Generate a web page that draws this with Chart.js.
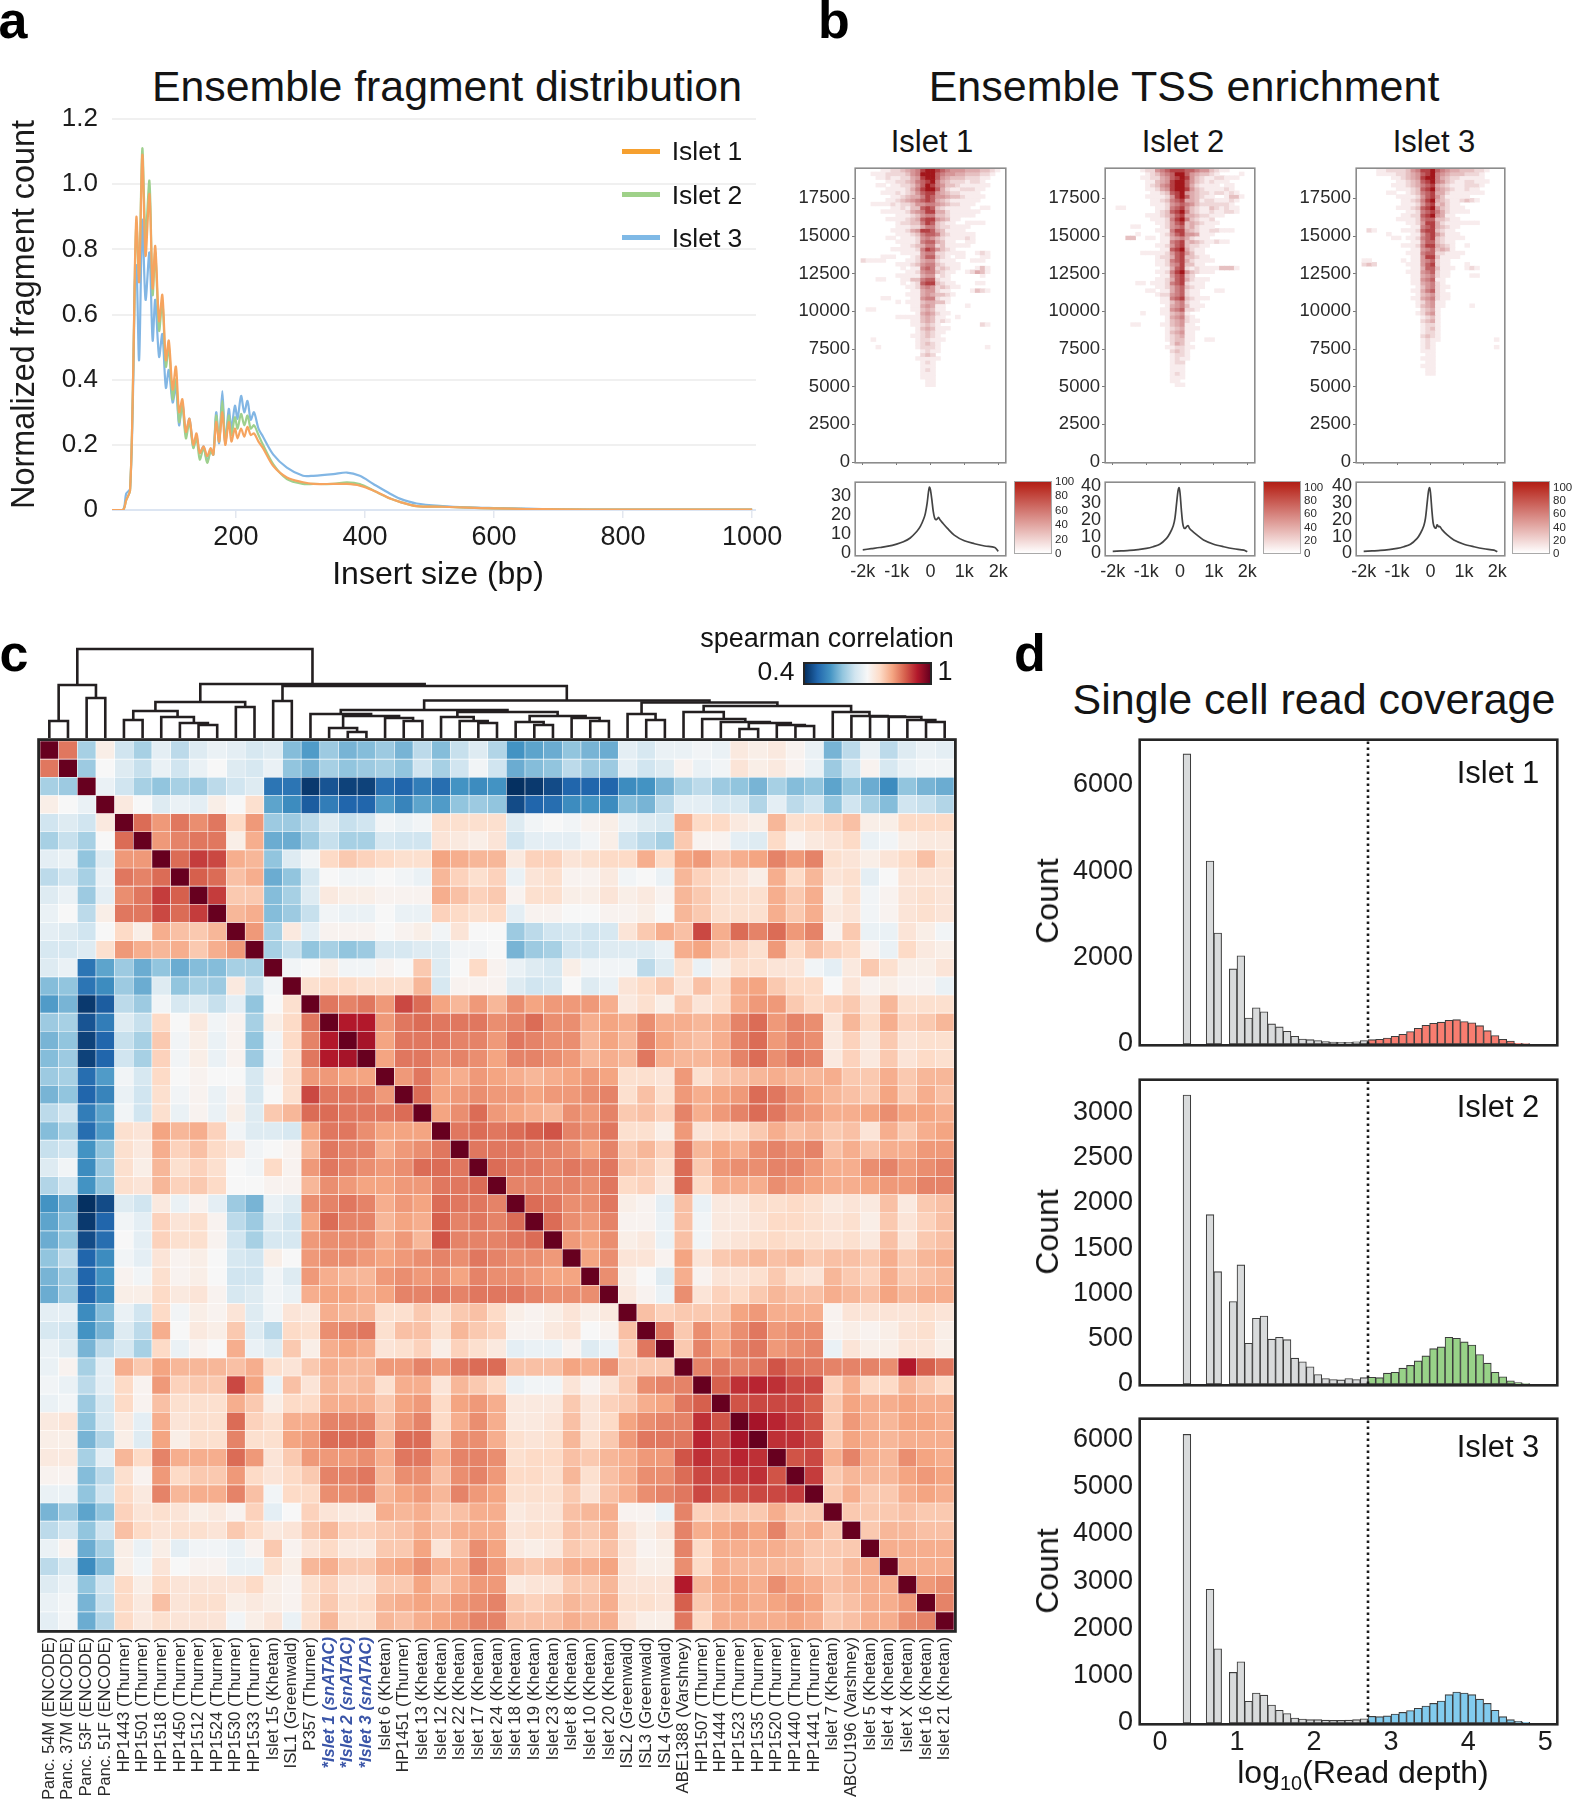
<!DOCTYPE html>
<html>
<head>
<meta charset="utf-8">
<title>Islet snATAC quality figure</title>
<script src="https://cdn.jsdelivr.net/npm/chart.js@4/dist/chart.umd.min.js"></script>
<style>
  html, body { margin: 0; background: #fff; }
  #page { position: relative; width: 1573px; height: 1800px; overflow: hidden; font-family: "Liberation Sans", Arial, sans-serif; color: #141414; }
  #page canvas { position: absolute; }
  .t { position: absolute; white-space: nowrap; line-height: 1; transform: translate(-50%, -50%); }
  .t sub { font-size: 0.62em; line-height: 0; }
  .box { position: absolute; box-sizing: border-box; }
</style>
</head>
<body>
<div id="page"></div>
<script>
// panel a
const fragX = [8,25,30,36,41,43.5,46,50,55,60,66,71,75,81,86,91.5,96,102,107,112,117,122.5,128,134,139,144,150,155.5,161,165,169.5,174,179,183.5,189,193,198.5,202.5,208,213,218,223,228,235,242,258,279,304,320,351,372,392,413,439,454,480,520,560,600,650,700,800,900,1000]
const fragIslet1 = [0,0,.03,.06,.44,.75,.90,.70,1.09,.78,.97,.68,.81,.58,.66,.46,.52,.37,.44,.30,.34,.24,.28,.20,.235,.175,.195,.165,.19,.17,.27,.21,.30,.20,.27,.21,.25,.22,.25,.225,.255,.23,.235,.21,.19,.135,.10,.085,.08,.08,.08,.075,.06,.035,.025,.012,.01,.007,.005,.003,.002,.001,.001,.001]
const fragIslet2 = [0,0,.03,.06,.44,.73,.88,.72,1.11,.84,1.01,.66,.79,.55,.64,.44,.50,.34,.40,.27,.32,.22,.27,.19,.22,.155,.19,.145,.18,.17,.29,.21,.335,.21,.29,.23,.285,.25,.295,.26,.29,.25,.26,.23,.20,.14,.095,.08,.08,.08,.085,.08,.06,.035,.025,.012,.01,.007,.005,.003,.002,.001,.001,.001]
const fragIslet3 = [0,0,.05,.065,.40,.70,.75,.46,.89,.645,.79,.52,.645,.47,.54,.375,.43,.33,.38,.26,.33,.235,.28,.195,.225,.175,.195,.15,.185,.17,.30,.205,.365,.205,.31,.25,.32,.28,.35,.30,.335,.277,.30,.25,.225,.17,.13,.105,.105,.11,.115,.105,.08,.05,.035,.02,.012,.008,.006,.004,.002,.001,.001,.001]
const fragXTicks = [200,400,600,800,1000]
const fragYTicks = [0,.2,.4,.6,.8,1,1.2]

// panel b, rows run from 19500 downwards in steps of 250, one digit per column, blank below the last row
const tssIslet1 = [
  "000001122345689987655544433210",
  "000111222235699976554433322100",
  "000011211224589975433322211000",
  "000000112234678964322212210000",
  "000011011223579865332111111000",
  "000000111124689974211222110000",
  "000001112123578854322111100000",
  "000000011234468755433211110000",
  "000000112345678743211111100000",
  "000111121223556654322111000000",
  "000000011213378732111110011000",
  "000001111124568844211111100000",
  "000000001112356633211111000000",
  "000000111123478854311000000000",
  "000000001223368732110011110000",
  "000000001112246632211110000000",
  "000000011124588743111100000000",
  "000000001112367763211111000000",
  "000000110111256532111121000000",
  "000000001111267743110011000000",
  "000000000112346623111110000000",
  "000000011111268753210000000000",
  "000000000111156622111100121000",
  "000001110001257732101100011000",
  "021111000011245521110001110000",
  "000000001112356632111000000000",
  "000000000101167623211000131000",
  "000000000011256632110012431000",
  "000000001111145512100000010000",
  "000011000113367721100000000000",
  "000000000101278832110000110000",
  "000000000011256523211000000000",
  "000000000001145521100001321000",
  "000000000011145433210000000000",
  "000001100001156621100000000000",
  "000000001011134433100000000000",
  "000000000001145411000010000000",
  "001100000001134311000000000000",
  "000000000000145421100000000000",
  "000000001111134311001000000000",
  "000000000001134312100000000000",
  "000000000001123210000000021000",
  "000000000000134311100000000000",
  "000000000000123211000000000000",
  "000000000001123210000000000000",
  "000100000000122111000000000000",
  "000000000000123210000000000000",
  "000010000000122210000000001000",
  "000000000000012110000000000000",
  "000000000000023200000000000000",
  "000000000000111110000000000000",
  "000000000000012100000000000000",
  "000000000000011100000000000000",
  "000000000000012100000000000000",
  "000000000000011100000000000000",
  "000000000000011100000000000000",
  "000000000000001100000000000000",
  "000000000000001100000000000000",
]
const tssIslet2 = [
  "000000012256788877655321100000",
  "000000001235679975433210000100",
  "000000011224578985321122111000",
  "000000001134589975321211100000",
  "000000001235689974211110110000",
  "000000001124589985321111210000",
  "000000000112378954322122121000",
  "000000001111258974321100133100",
  "000000000112367844312211121000",
  "000000000111256765322222210000",
  "001100000011267853211321211000",
  "000000000012378963211211221000",
  "000000001112357844322111000000",
  "000000000111268963211200000000",
  "000000000011257834321110000000",
  "000001100001256734211100000000",
  "000000000011168843211221110000",
  "000000100001257855411100000000",
  "000033001101145642111000000000",
  "000000000001167834321121100000",
  "000000000011257832211000000000",
  "000000000001178942110000000000",
  "000000011111257853110000000000",
  "000000000012247833211000000000",
  "000000000011267842111100000000",
  "000000000011256833110000000000",
  "000000000001147821211113331000",
  "000000000011268953211100000000",
  "000000000001157832000000000000",
  "000000000011247842111000000000",
  "000000110111267821110000000000",
  "000000000011246732110000000000",
  "000000001101146721100011000000",
  "000000000012256721100000000000",
  "000000000001167832111000000000",
  "000000000001135621100000000000",
  "000000000000145631110000000000",
  "000000000001156722100000000000",
  "000000010001134510000000000000",
  "000000000000145621000000000000",
  "000000000000134521100000000000",
  "000001100001134511000000000000",
  "000000000000123411100000000000",
  "000000000000134511000000000000",
  "000000000000123411000000000000",
  "000000000000123311001100000000",
  "000000000000024310000000000000",
  "000000000000112211000000000000",
  "000000000000023210000000000000",
  "000000000000012210000000000000",
  "000000000000012110000000000000",
  "000000000000012200000000000000",
  "000000000000011100000000000000",
  "000000000000011100000000000000",
  "000000000000012100000000000000",
  "000000000000011100000000000000",
  "000000000000011000000000000000",
  "000000000000001100000000000000",
]
const tssIslet3 = [
  "000011222235688976544333221000",
  "000011112234578965433322210000",
  "000000011234589964322111110000",
  "000000001123478965321122111000",
  "000000011123467843211122210000",
  "000000001112378954321121100000",
  "000000110012367844211111110000",
  "000000001111257853111110000000",
  "000000000112368943211232100000",
  "000000000111257834211000000000",
  "000000001112378953211100000000",
  "000000000011267864211110000000",
  "000000000112278954110000000000",
  "000000001111267733211000000000",
  "000000000011258842111111100000",
  "000000000001167843211000000000",
  "002100000111278832110000000000",
  "000000100001157853111000000000",
  "000000011011267832111100000000",
  "000000000001157732110000000000",
  "000000000111268843210010000000",
  "000000000001156734310000000000",
  "000000000011167722111100000000",
  "000000000001158831111000000000",
  "011000000101156721100000000000",
  "023200000011157821100010000000",
  "000000000001147731110012100000",
  "000000000011156721100000000000",
  "000000000001145621100001100000",
  "000000000001156711000000000000",
  "000000000001145621000000000000",
  "000000000000135621100000000000",
  "000000000001146721000000000000",
  "000000000000134521100000000000",
  "000000000001145621100000000000",
  "000000000000124511000000000000",
  "000000000000134511000001000000",
  "000000000000023410000000000000",
  "000000000000124510000000000000",
  "000000000000012310000000000000",
  "000000000000023410000000000000",
  "000000000000012210000000000000",
  "000000000000012310000000000000",
  "000000000000012210000000000000",
  "000000000000023210000000000000",
  "000000000000012110000000000010",
  "000000000000012100000000000000",
  "000000000000012100000000000010",
  "000000000000011100000000000000",
  "000000000000001100000000000000",
  "000000000000011100000000000000",
  "000000000000001100000000000000",
  "000000000000011100000000000000",
  "000000000000001100000000000000",
  "000000000000001100000000000000",
]
const tssShades = [0,.08,.17,.27,.36,.45,.55,.68,.82,1]
const tssYTicks = [0,2500,5000,7500,10000,12500,15000,17500]
const tssXTicks = [-2000,-1000,0,1000,2000]
const profileX = [-2000,-1750,-1500,-1250,-1000,-800,-600,-400,-300,-200,-150,-100,-60,-30,0,40,80,120,160,200,240,280,350,500,700,1000,1300,1600,1900,2000]
const profileIslet1 = [1.8,2.4,3,3.7,4.8,6,8,11.5,14,18,21,26,32,34.5,33,28,22,18.5,17.5,18,18.7,17.5,16,13,9.5,6.5,5,3.8,3,1]
const profileIslet2 = [1.2,1.5,1.8,2.3,3,4,5.5,9,12,16.5,21,30,37,39,36,26,18,15,15,16,16.5,15,13.5,11,8,5.5,4,2.8,2,1]
const profileIslet3 = [1.2,1.5,1.8,2.3,3,4,5.5,9,12,16.5,21,30,37,39,36,26,18,15.5,15,17,16,16,14,11,8,5.5,4,2.8,2,1]
const tssBarTicks = [0,20,40,60,80,100]

// panel c
const corrLabels = ["Panc. 54M (ENCODE)","Panc. 37M (ENCODE)","Panc. 53F (ENCODE)","Panc. 51F (ENCODE)","HP1443 (Thurner)","HP1501 (Thurner)","HP1518 (Thurner)","HP1450 (Thurner)","HP1512 (Thurner)","HP1524 (Thurner)","HP1530 (Thurner)","HP1533 (Thurner)","Islet 15 (Khetan)","ISL1 (Greenwald)","P357 (Thurner)","*Islet 1 (snATAC)","*Islet 2 (snATAC)","*Islet 3 (snATAC)","Islet 6 (Khetan)","HP1451 (Thurner)","Islet 13 (Khetan)","Islet 12 (Khetan)","Islet 22 (Khetan)","Islet 17 (Khetan)","Islet 24 (Khetan)","Islet 18 (Khetan)","Islet 19 (Khetan)","Islet 23 (Khetan)","Islet 8 (Khetan)","Islet 10 (Khetan)","Islet 20 (Khetan)","ISL2 (Greenwald)","ISL3 (Greenwald)","ISL4 (Greenwald)","ABE1388 (Varshney)","HP1507 (Thurner)","HP1444 (Thurner)","HP1523 (Thurner)","HP1535 (Thurner)","HP1520 (Thurner)","HP1440 (Thurner)","HP1441 (Thurner)","Islet 7 (Khetan)","ABCU196 (Varshney)","Islet 5 (Khetan)","Islet 4 (Khetan)","Islet X (Khetan)","Islet 16 (Khetan)","Islet 21 (Khetan)"]
// upper triangle of the correlation x 100, each row starts right after the diagonal
const corrUpper = [
  [86,60,72,64,60,67,62,66,68,67,65,66,57,53,59,56,57,59,56,62,57,63,66,61,52,54,55,58,56,55,67,65,68,68,69,68,73,72,73,71,68,56,62,68,62,66,68,67],
  [59,70,66,63,68,64,68,70,66,65,68,58,56,60,58,59,60,58,64,60,64,69,64,55,57,58,62,59,59,67,64,66,71,68,69,74,72,73,71,68,59,64,71,65,68,69,69],
  [68,64,60,58,60,59,62,64,66,48,48,41,44,42,42,47,46,49,47,52,51,52,40,41,43,46,46,46,51,52,56,60,62,59,58,56,60,57,58,54,58,55,51,58,56,55],
  [73,70,66,68,67,72,70,75,54,51,45,49,46,46,53,50,54,53,58,59,58,43,46,47,51,52,51,57,56,62,67,67,65,65,61,67,62,64,58,64,60,57,64,63,61],
  [87,83,86,84,86,76,83,59,59,62,66,63,64,69,68,69,75,75,75,75,66,69,70,69,71,72,68,66,65,81,76,76,73,72,80,75,76,77,79,72,72,76,76,76],
  [83,85,86,86,72,81,55,55,59,63,60,60,65,64,64,74,73,72,74,64,67,67,67,69,72,64,62,60,78,71,71,67,66,76,71,73,74,76,68,69,72,73,73],
  [87,91,90,81,80,58,66,69,76,78,77,76,75,75,82,81,80,80,73,77,77,74,75,76,76,81,76,82,83,79,81,82,85,83,85,75,74,72,74,76,79,75],
  [88,87,79,81,55,58,65,70,69,69,70,69,68,80,77,75,77,68,74,75,71,71,73,69,70,68,80,77,75,74,72,81,76,80,74,75,67,70,74,74,74],
  [91,78,78,57,60,66,73,72,72,71,71,71,81,79,77,78,71,75,75,72,72,74,72,73,71,80,78,75,75,75,81,78,81,72,75,69,71,74,75,74],
  [80,81,57,59,63,69,68,68,70,68,68,77,76,75,76,67,71,71,70,70,71,71,72,70,80,78,75,75,75,81,78,81,73,74,69,71,74,75,74],
  [83,60,73,67,71,71,71,70,71,72,69,74,70,70,59,62,64,65,64,65,74,78,81,79,90,81,87,85,87,83,85,71,78,68,68,74,72,69],
  [60,63,58,60,58,59,65,65,66,66,69,69,70,56,59,60,64,64,66,66,66,68,81,82,78,77,75,83,76,79,77,76,71,68,76,73,72],
  [69,70,72,69,69,71,70,78,66,70,76,71,68,66,65,72,69,69,69,62,66,75,68,72,75,75,74,74,69,67,73,78,75,72,72,74],
  [75,76,76,75,75,75,80,65,71,71,71,66,64,65,70,66,68,74,76,78,74,79,76,81,82,78,76,76,70,74,71,72,71,71,68],
  [86,85,86,83,90,87,82,80,83,80,84,82,83,83,83,81,73,75,72,78,74,76,81,83,83,78,76,77,78,74,80,75,75,75],
  [94,94,83,86,87,86,86,86,84,85,87,84,84,81,82,81,84,81,81,80,81,85,87,83,85,84,74,80,76,81,77,78,80],
  [95,82,86,86,86,85,85,83,86,85,84,84,80,82,80,85,82,80,79,81,85,87,83,85,84,73,77,73,78,74,75,75],
  [82,86,86,84,85,84,82,85,85,84,83,80,81,80,86,81,80,80,81,85,87,84,86,85,73,77,73,78,74,76,75],
  [83,86,82,81,83,82,81,80,81,82,83,82,75,75,74,83,75,78,79,80,81,80,80,81,78,78,81,78,80,80],
  [87,82,83,84,83,83,82,83,83,84,85,75,79,75,83,81,82,83,87,86,84,82,80,79,78,82,78,81,79],
  [82,84,87,83,82,81,80,84,83,85,78,79,77,85,81,83,85,87,86,84,83,81,81,82,84,82,82,81],
  [86,87,86,87,88,89,85,84,86,75,75,72,83,74,76,76,78,81,79,80,78,79,74,81,78,81,82],
  [86,86,86,85,85,84,82,85,78,80,77,86,80,82,81,84,85,84,85,79,81,79,81,81,83,83],
  [87,86,86,85,86,85,86,79,78,75,87,78,83,84,84,85,85,83,81,81,84,85,83,84,85],
  [85,85,85,85,84,86,76,77,73,87,76,81,81,81,84,83,82,81,81,82,83,83,85,85],
  [87,86,84,84,86,72,71,67,79,68,73,73,75,75,76,75,73,74,73,79,73,78,79],
  [87,84,83,85,71,71,68,79,69,73,73,74,76,76,75,74,75,72,78,74,77,79],
  [83,82,84,72,73,68,79,69,73,74,75,76,75,75,74,75,73,79,74,78,79],
  [82,84,74,74,71,82,74,78,79,80,79,80,78,79,79,78,81,78,80,81],
  [84,72,70,66,81,71,74,74,75,78,75,74,80,78,77,81,78,79,80],
  [73,71,68,84,74,77,76,78,80,79,79,81,80,79,82,80,81,81],
  [79,77,78,78,78,82,83,81,81,81,71,74,74,74,74,75,74],
  [86,78,84,81,84,86,83,84,84,71,72,71,72,74,75,72],
  [78,85,82,85,86,83,84,85,68,74,72,72,74,74,72],
  [85,86,85,86,89,87,86,85,85,85,84,94,88,86],
  [88,92,93,92,90,90,77,81,76,76,80,78,76],
  [89,90,90,90,88,78,82,81,81,82,81,81],
  [95,93,91,89,78,83,81,80,82,82,81],
  [92,92,90,78,82,81,80,81,81,81],
  [89,90,81,85,81,80,84,82,81],
  [91,78,80,80,80,82,83,82],
  [78,81,78,78,81,82,81],
  [78,78,78,79,78,78],
  [78,80,80,79,79],
  [81,81,81,81],
  [81,81,81],
  [83,84],
  [85],
]
// merges as [name, left, right, height], a number is a leaf column
const dendroMerges = [
  ["a",1,2,17],["b",3,4,40],["c","a","b",53],["d",5,6,18],["e",9,10,13],["f",8,"e",15],["g",7,"f",21],["h","d","g",27],
  ["i",11,12,31],["j","h","i",36],["k",13,14,37],["l",17,18,6],["m",16,"l",10],["n",20,21,17],["o",19,"n",20],["p","m","o",22],
  ["q",15,"p",24],["r",24,25,15],["s",23,"r",17],["t",22,"s",21],["u",27,28,13],["v",26,"u",16],["w",30,31,17],["x",29,"w",20],
  ["y","v","x",22],["z","t","y",26],["aa","q","z",28],["ab",33,34,18],["ac",32,"ab",24],["ad",41,42,12],["ae",40,"ad",13],["af",38,39,9],
  ["ag","af","ae",15],["ah",37,"ag",16],["ai",36,"ah",19],["aj",35,"ai",26],["ak",48,49,16],["al",47,"ak",18],["am",46,"al",21],["an",45,"am",21.5],
  ["ao",44,"an",22],["ap",43,"ao",26],["aq","aj","ap",32],["ar","ac","aq",35.5],["as","aa","ar",37.5],["at","k","as",52],["au","j","at",54],["av","c","au",89],
]
const corrStops = ["#053061","#2166ac","#4393c3","#92c5de","#d1e5f0","#f7f7f7","#fddbc7","#f4a582","#d6604d","#b2182b","#67001f"]

// panel d, bin left edges and counts
const depthBins = [.3,.6,.7,.9,1,1.1,1.2,1.3,1.4,1.5,1.6,1.7,1.8,1.9,2,2.1,2.2,2.3,2.4,2.5,2.6,2.7,2.8,2.9,3,3.1,3.2,3.3,3.4,3.5,3.6,3.7,3.8,3.9,4,4.1,4.2,4.3,4.4,4.5,4.6,4.7]
const depthIslet1 = [6720,4240,2570,1740,2045,600,840,745,465,395,295,180,115,100,80,55,45,40,40,50,80,100,110,140,180,225,290,365,435,480,505,550,565,520,490,425,310,195,110,70,15,10]
const depthIslet2 = [3190,1870,1240,910,1315,450,725,750,495,515,490,285,245,190,105,60,50,45,60,50,70,75,70,120,130,175,205,255,310,390,410,515,505,465,430,325,230,130,80,35,15,5]
const depthIslet3 = [6105,2830,1570,1070,1295,460,635,590,380,270,200,105,85,70,70,60,55,55,60,70,90,140,135,150,190,225,265,310,360,415,465,600,655,635,600,505,415,270,135,70,35,15]
const depthCut = 2.7
const depthXTicks = [0,1,2,3,4,5]

const page = document.getElementById("page")
const FONT = '"Liberation Sans", Arial, sans-serif'
const INK = "#1c1c1c"
const plain = (v) => String(v)

Chart.defaults.font.family = FONT
Chart.defaults.color = INK
Chart.defaults.animation = false
Chart.defaults.responsive = false
Chart.defaults.maintainAspectRatio = false
Chart.defaults.plugins.legend.display = false
Chart.defaults.plugins.tooltip.enabled = false
Chart.defaults.scale.ticks.autoSkip = false

const framePlugin = {
  id: "frame",
  afterDraw(chart, args, opts) {
    if (!opts.width) return
    const { left, right, top, bottom } = chart.chartArea
    const ctx = chart.ctx
    const w = opts.width
    ctx.save()
    ctx.strokeStyle = opts.color
    ctx.lineWidth = w
    ctx.strokeRect(left - w / 2, top - w / 2, right - left + w, bottom - top + w)
    ctx.restore()
  },
}

// chart area lands exactly on plot, m is the room around it for axes
function makeChart(plot, m, config) {
  const canvas = document.createElement("canvas")
  canvas.width = plot.r - plot.l + m.l + m.r
  canvas.height = plot.b - plot.t + m.t + m.b
  canvas.style.left = plot.l - m.l + "px"
  canvas.style.top = plot.t - m.t + "px"
  page.appendChild(canvas)

  const { x, y } = config.options.scales
  const padding = { top: m.t, right: m.r, left: 0, bottom: 0 }
  if (y.display === false) padding.left = m.l
  else y.afterFit = (s) => { s.width = m.l }
  if (x.display === false) padding.bottom = m.b
  else x.afterFit = (s) => { s.height = m.b }
  config.options.layout = { padding }
  config.plugins = [framePlugin]
  return new Chart(canvas, config)
}

function fixedTicks(values) {
  return (scale) => { scale.ticks = values.map((value) => ({ value })) }
}

function addText(html, x, baseline, size, extra = {}) {
  const el = document.createElement("div")
  el.className = "t"
  el.innerHTML = html
  el.style.left = x + "px"
  el.style.top = baseline - 0.3465 * size + "px"
  el.style.fontSize = size + "px"
  Object.assign(el.style, extra)
  page.appendChild(el)
}

function addBox(l, t, w, h, extra) {
  const el = document.createElement("div")
  el.className = "box"
  Object.assign(el.style, { left: l + "px", top: t + "px", width: w + "px", height: h + "px" }, extra)
  page.appendChild(el)
}

function mix(a, b, t) {
  const pa = parseInt(a.slice(1), 16)
  const pb = parseInt(b.slice(1), 16)
  const ch = (s) => Math.round(((pa >> s) & 255) * (1 - t) + ((pb >> s) & 255) * t)
  return `rgb(${ch(16)},${ch(8)},${ch(0)})`
}

function corrColor(v) {
  const pos = Math.min(Math.max((v - 40) / 6, 0), 10)
  const i = Math.min(Math.floor(pos), 9)
  return mix(corrStops[i], corrStops[i + 1], pos - i)
}

function tssColor(d) {
  return mix("#ffffff", "#a3161b", tssShades[d])
}

// panel letters and headings
addText("a", 13, 38, 52, { fontWeight: "bold", color: "#000" })
addText("b", 834, 38, 52, { fontWeight: "bold", color: "#000" })
addText("c", 14, 671, 52, { fontWeight: "bold", color: "#000" })
addText("d", 1030, 671, 52, { fontWeight: "bold", color: "#000" })
addText("Ensemble fragment distribution", 447, 101, 42.8)
addText("Ensemble TSS enrichment", 1184, 101, 43)
addText("Single cell read coverage", 1314, 714, 43)

// panel a
makeChart({ l: 112, r: 756, t: 119, b: 510 }, { l: 106, r: 50, t: 40, b: 60 }, {
  type: "line",
  data: {
    datasets: [
      { label: "Islet 1", data: fragIslet1.map((y, i) => ({ x: fragX[i], y })), borderColor: "#f6a45f" },
      { label: "Islet 2", data: fragIslet2.map((y, i) => ({ x: fragX[i], y })), borderColor: "#9ed08e" },
      { label: "Islet 3", data: fragIslet3.map((y, i) => ({ x: fragX[i], y })), borderColor: "#82b6e4" },
    ],
  },
  options: {
    elements: { point: { radius: 0 }, line: { borderWidth: 2.2, tension: 0.3 } },
    scales: {
      x: {
        type: "linear", min: 8, max: 1006,
        afterBuildTicks: fixedTicks(fragXTicks),
        grid: { drawOnChartArea: false, tickLength: 8, color: "#e3e7ef", lineWidth: 1.5 },
        border: { display: false },
        ticks: { font: { size: 27 }, padding: 3, maxRotation: 0, callback: plain },
      },
      y: {
        min: 0, max: 1.2,
        afterBuildTicks: fixedTicks(fragYTicks),
        grid: { drawTicks: false, lineWidth: 2, color: (c) => (c.tick.value === 0 ? "#dce5f2" : "#f0f0f0") },
        border: { display: false },
        ticks: { font: { size: 26 }, padding: 14, callback: (v) => (v === 0 ? "0" : v.toFixed(1)) },
        title: { display: true, text: "Normalized fragment count", font: { size: 32.4 }, padding: 0 },
      },
    },
  },
})
addText("Insert size (bp)", 438, 584, 32)
;[["Islet 1", "#f6a02f", 160, 151], ["Islet 2", "#9fd189", 204, 194], ["Islet 3", "#7fb9e6", 247, 237]].forEach(([name, color, base, lineY]) => {
  addBox(622, lineY - 2.5, 38, 5, { background: color })
  addText(name, 707, base, 26.5)
})

// panel b
function tssPanel(title, rows, profile, left, right, centerX, profileMax, profileTicks, barLeft, barTop) {
  addText(title, centerX, 152, 31)

  const colStep = 4400 / rows[0].length
  const datasets = rows.map((row, r) => {
    const data = []
    const colors = []
    ;[...row].forEach((ch, j) => {
      if (ch === "0") return
      data.push({ x: -2200 + colStep * (j + 0.5), y: [19250 - 250 * r, 19500 - 250 * r] })
      colors.push(tssColor(Number(ch)))
    })
    return { data, backgroundColor: colors, borderWidth: 0, barPercentage: 1, categoryPercentage: 1, grouped: false }
  })

  makeChart({ l: left, r: right, t: 169, b: 462 }, { l: 72, r: 30, t: 30, b: 30 }, {
    type: "bar",
    data: { datasets },
    options: {
      plugins: { frame: { color: "#8c8c8c", width: 1.6 } },
      scales: {
        x: {
          type: "linear", offset: false, min: -2200, max: 2200,
          afterBuildTicks: fixedTicks(tssXTicks),
          grid: { drawOnChartArea: false, offset: false, tickLength: 3, color: "#777" },
          border: { display: false },
          ticks: { display: false },
        },
        y: {
          min: 0, max: 19450,
          afterBuildTicks: fixedTicks(tssYTicks),
          grid: { drawOnChartArea: false, tickLength: 4, color: "#777" },
          border: { display: false },
          ticks: { font: { size: 18.5 }, padding: 2, color: "#2a2a2a", callback: plain },
        },
      },
    },
  })

  makeChart({ l: left, r: right, t: 483, b: 555 }, { l: 72, r: 30, t: 30, b: 34 }, {
    type: "line",
    data: { datasets: [{ data: profile.map((y, i) => ({ x: profileX[i], y })), borderColor: "#444", borderWidth: 1.7, pointRadius: 0, tension: 0.3 }] },
    options: {
      plugins: { frame: { color: "#8c8c8c", width: 1.6 } },
      scales: {
        x: {
          type: "linear", min: -2200, max: 2200,
          afterBuildTicks: fixedTicks(tssXTicks),
          grid: { display: false, drawTicks: false },
          border: { display: false },
          ticks: { font: { size: 18 }, padding: 6, maxRotation: 0, color: "#2a2a2a", callback: (v) => (v === 0 ? "0" : v / 1000 + "k") },
        },
        y: {
          min: -0.9, max: profileMax,
          afterBuildTicks: fixedTicks(profileTicks),
          grid: { display: false, drawTicks: false },
          border: { display: false },
          ticks: { font: { size: 18 }, padding: 5, color: "#2a2a2a", callback: plain },
        },
      },
    },
  })

  addBox(barLeft, 481, 38, 73, { background: "linear-gradient(to top, #ffffff, #b8291f 94%, #ae1f17)", border: "1px solid #a9a9a9" })
  tssBarTicks.forEach((tick) => {
    const y = 554 - (tick / 100) * (554 - barTop)
    addText(String(tick), barLeft + 41, y + 4, 11.5, { transform: "translate(0, -50%)", color: "#2a2a2a" })
  })
}

tssPanel("Islet 1", tssIslet1, profileIslet1, 856, 1005, 932, 36.7, [0,10,20,30], 1014, 482)
tssPanel("Islet 2", tssIslet2, profileIslet2, 1106, 1254, 1183, 41.8, [0,10,20,30,40], 1263, 488)
tssPanel("Islet 3", tssIslet3, profileIslet3, 1357, 1504, 1434, 41.8, [0,10,20,30,40], 1512, 488)

// panel c
function cellValue(r, c) {
  if (r === c) return 100
  return r < c ? corrUpper[r][c - r - 1] : corrUpper[c][r - c - 1]
}

const corrDatasets = corrLabels.map((_, r) => ({
  data: corrLabels.map(() => [r, r + 1]),
  backgroundColor: corrLabels.map((_, c) => corrColor(cellValue(r, c))),
  borderColor: "rgba(255,255,255,0.5)",
  borderWidth: 0.6,
  borderSkipped: false,
  barPercentage: 1,
  categoryPercentage: 1,
  grouped: false,
}))

makeChart({ l: 40, r: 954, t: 741, b: 1630 }, { l: 40, r: 20, t: 4, b: 170 }, {
  type: "bar",
  data: { labels: corrLabels, datasets: corrDatasets },
  options: {
    plugins: { frame: { color: "#262626", width: 2.8 } },
    scales: {
      x: {
        grid: { display: false, drawTicks: false },
        border: { display: false },
        ticks: {
          minRotation: 90, maxRotation: 90, padding: 7,
          color: (c) => (c.index >= 15 && c.index <= 17 ? "#3a55a8" : "#2a2a2a"),
          font: (c) => (c.index >= 15 && c.index <= 17
            ? { size: 16.5, style: "italic", weight: "bold" }
            : { size: c.index < 4 ? 16.3 : 16.8 }),
        },
      },
      y: { display: false, min: 0, max: corrLabels.length, reverse: true },
    },
  },
})

const dendroNodes = {}
const dendroDatasets = dendroMerges.map(([name, left, right, height]) => {
  const node = (n) => (typeof n === "number" ? { x: n, h: 0 } : dendroNodes[n])
  const a = node(left)
  const b = node(right)
  dendroNodes[name] = { x: (a.x + b.x) / 2, h: height }
  return {
    data: [{ x: a.x, y: a.h }, { x: a.x, y: height }, { x: b.x, y: height }, { x: b.x, y: b.h }],
    showLine: true, borderColor: "#231f20", borderWidth: 2.6, pointRadius: 0, clip: false,
  }
})

makeChart({ l: 40, r: 954, t: 644, b: 738 }, { l: 4, r: 4, t: 4, b: 4 }, {
  type: "scatter",
  data: { datasets: dendroDatasets },
  options: {
    scales: {
      x: { display: false, type: "linear", min: 0.5, max: corrLabels.length + 0.5 },
      y: { display: false, min: 0, max: 94 },
    },
  },
})

addText("spearman correlation", 827, 647, 27)
addText("0.4", 776, 680, 26.5)
addText("1", 945, 680, 27)
addBox(803, 662, 129, 23, {
  background: `linear-gradient(to right, ${corrStops.join(",")})`,
  border: "2.5px solid #262626",
})

// panel d
function depthPanel(name, counts, color, top, bottom, yMax, yTicks, showX, labelBase, titleY) {
  const bars = {
    data: counts.map((y, i) => ({ x: depthBins[i] + 0.05, y })),
    backgroundColor: depthBins.map((b) => (b < depthCut - 0.01 ? "#d9dbdc" : color)),
    borderColor: "#3d3d3d",
    borderWidth: 1.1,
    borderSkipped: false,
    barPercentage: 1,
    categoryPercentage: 1,
    grouped: false,
    order: 2,
  }
  const cutLine = {
    type: "line",
    data: [{ x: depthCut, y: 0 }, { x: depthCut, y: yMax }],
    borderColor: "#1a1a1a",
    borderWidth: 2.6,
    borderDash: [2.6, 3.4],
    pointRadius: 0,
    order: 1,
  }
  makeChart({ l: 1141, r: 1556, t: top, b: bottom }, { l: 113, r: 16, t: 30, b: showX ? 36 : 30 }, {
    type: "bar",
    data: { datasets: [bars, cutLine] },
    options: {
      plugins: { frame: { color: "#262626", width: 2.6 } },
      scales: {
        x: {
          type: "linear", offset: false, min: -0.246, max: 5.14,
          afterBuildTicks: fixedTicks(depthXTicks),
          grid: { display: false, offset: false, drawTicks: false },
          border: { display: false },
          ticks: { display: showX, font: { size: 27 }, padding: 3, maxRotation: 0, callback: plain },
        },
        y: {
          min: 0, max: yMax,
          afterBuildTicks: fixedTicks(yTicks),
          grid: { display: false, drawTicks: false },
          border: { display: false },
          ticks: { font: { size: 27 }, padding: 8, callback: plain },
        },
      },
    },
  })
  addText(name, 1498, labelBase, 31)
  addText("Count", 1047, titleY + 0.3465 * 32, 32, { transform: "translate(-50%, -50%) rotate(-90deg)" })
}

depthPanel("Islet 1", depthIslet1, "#f87d70", 741, 1044, 7020, [0,2000,4000,6000], false, 783, 901)
depthPanel("Islet 2", depthIslet2, "#98d288", 1081, 1384, 3345, [0,500,1000,1500,2000,2500,3000], false, 1117, 1232)
depthPanel("Islet 3", depthIslet3, "#82cbee", 1420, 1723, 6410, [0,1000,2000,3000,4000,5000,6000], true, 1457, 1571)
addText("log<sub>10</sub>(Read depth)", 1363, 1783, 32)
</script>
</body>
</html>
